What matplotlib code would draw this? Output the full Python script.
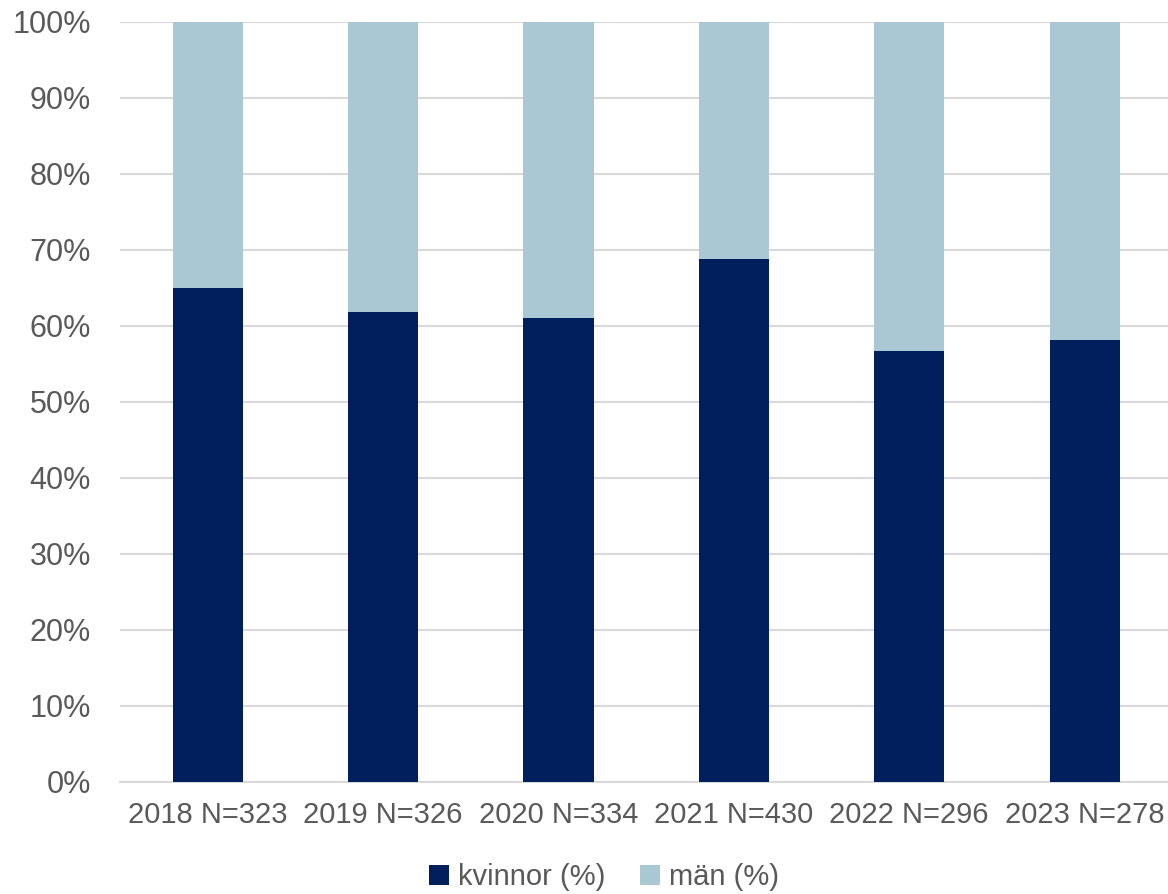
import matplotlib.pyplot as plt
import numpy as np

years = ["2018 N=323", "2019 N=326", "2020 N=334", "2021 N=430", "2022 N=296", "2023 N=278"]
kvinnor = [65.0, 61.8, 61.0, 68.8, 56.7, 58.2]
man = [100 - v for v in kvinnor]

plt.rcParams['font.family'] = ['Liberation Sans', 'DejaVu Sans']
text_color = '#595959'

fig = plt.figure(figsize=(11.68, 8.94), dpi=100)
ax = fig.add_axes([0.1027, 0.1253, 0.9010, 0.8501])

x = np.arange(len(years))
ax.bar(x, kvinnor, width=0.4, color='#001F5C', label='kvinnor (%)', zorder=3)
ax.bar(x, man, width=0.4, bottom=kvinnor, color='#AAC8D4', label='män (%)', zorder=3)

ax.set_ylim(0, 100)
ax.set_xlim(-0.5, 5.5)
ax.set_yticks(np.arange(0, 101, 10))
ax.set_yticklabels([f"{v}%" for v in range(0, 101, 10)])
ax.set_xticks(x)
ax.set_xticklabels(years)
ax.tick_params(axis='y', length=0, labelsize=22, labelcolor=text_color, pad=21)
ax.tick_params(axis='x', length=0, labelsize=21, labelcolor=text_color, pad=14)

ax.grid(axis='y', color='#d9d9d9', linewidth=1.5, zorder=0)
for s in ['top', 'right', 'left']:
    ax.spines[s].set_visible(False)
ax.spines['bottom'].set_color('#d9d9d9')
ax.spines['bottom'].set_linewidth(1.5)

leg = fig.legend(loc='center', bbox_to_anchor=(0.517, 0.019), ncol=2, frameon=False,
                 fontsize=21, handlelength=0.7, handleheight=0.7, handletextpad=0.3,
                 columnspacing=1.2)
for t in leg.get_texts():
    t.set_color(text_color)

fig.savefig('out.png', dpi=100)
